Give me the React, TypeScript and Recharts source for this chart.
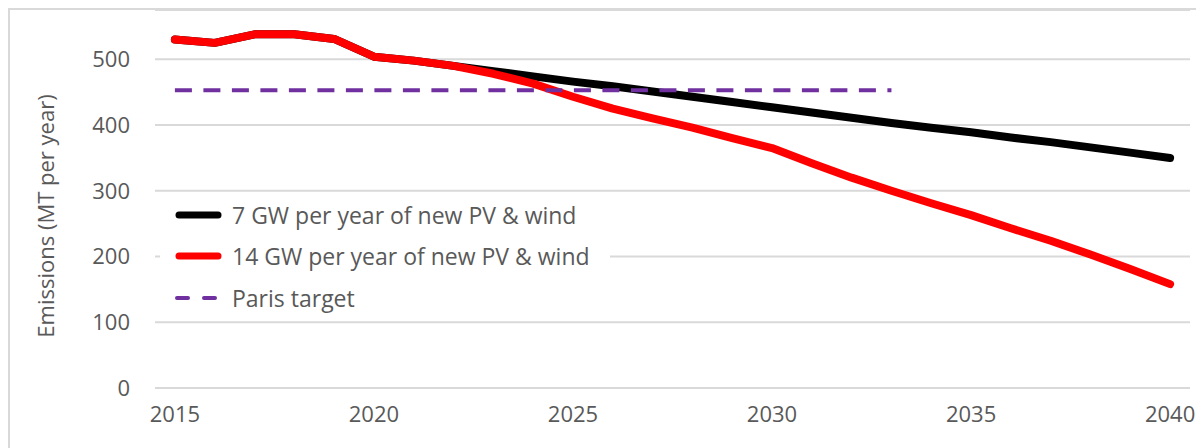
import { LineChart, Line, XAxis, YAxis, CartesianGrid, Legend } from "recharts";

// 연도 (x축)
const years = [
  2015, 2016, 2017, 2018, 2019, 2020, 2021, 2022, 2023, 2024, 2025, 2026, 2027,
  2028, 2029, 2030, 2031, 2032, 2033, 2034, 2035, 2036, 2037, 2038, 2039, 2040,
];

// 7 GW 시나리오
const sevenGW = [
  530, 525, 538, 538, 531, 504, 498, 490, 482, 474, 466, 459, 451, 443, 435,
  427, 419, 411, 403, 396, 389, 381, 374, 366, 358, 350,
];

// 14 GW 시나리오
const fourteenGW = [
  530, 525, 538, 538, 531, 504, 498, 490, 478, 463, 443, 425, 410, 396, 380,
  365, 342, 320, 300, 281, 263, 243, 224, 203, 181, 158,
];

// 파리 목표 (2033까지만)
const parisTarget = [
  453, 453, 453, 453, 453, 453, 453, 453, 453, 453, 453, 453, 453, 453, 453,
  453, 453, 453, 453, null, null, null, null, null, null, null,
];

const yTicks = [0, 100, 200, 300, 400, 500];
const xTicks = [2015, 2020, 2025, 2030, 2035, 2040];

const seriesNames = [
  "7 GW per year of new PV & wind",
  "14 GW per year of new PV & wind",
  "Paris target",
];

const FONT = "'Open Sans', 'Noto Sans', sans-serif";
const TEXT = "#595959";

const data = years.map((year, i) => ({
  year,
  seven: sevenGW[i],
  fourteen: fourteenGW[i],
  paris: parisTarget[i],
}));

// 범례: 흰 배경 박스 + 스와치
const LegendBox = () => {
  const swatches = [
    { color: "#000000", width: 7, dash: undefined as string | undefined },
    { color: "#FF0000", width: 7, dash: undefined },
    { color: "#7030A0", width: 4, dash: "11 16" },
  ];
  return (
    <div style={{ background: "#fff", paddingLeft: 15, paddingRight: 20 }}>
      {seriesNames.map((name, i) => (
        <div
          key={name}
          style={{ display: "flex", alignItems: "center", height: 41.5 }}
        >
          <svg width={47} height={12} style={{ display: "block" }}>
            <line
              x1={swatches[i].dash ? 2 : 4}
              x2={swatches[i].dash ? 44 : 43}
              y1={6}
              y2={6}
              stroke={swatches[i].color}
              strokeWidth={swatches[i].width}
              strokeLinecap="round"
              strokeDasharray={swatches[i].dash}
            />
          </svg>
          <span
            style={{
              marginLeft: 10,
              fontFamily: FONT,
              fontSize: 23,
              color: TEXT,
              whiteSpace: "nowrap",
            }}
          >
            {name}
          </span>
        </div>
      ))}
    </div>
  );
};

const YLabel = ({ viewBox }: any) => {
  const cx = viewBox.x + 35;
  const cy = viewBox.y + viewBox.height / 2 + 17;
  return (
    <text
      x={cx}
      y={cy}
      transform={`rotate(-90 ${cx} ${cy})`}
      textAnchor="middle"
      dominantBaseline="central"
      fontFamily={FONT}
      fontSize={22}
      fill={TEXT}
    >
      Emissions (MT per year)
    </text>
  );
};

export default function App() {
  return (
    <div
      style={{
        width: 1194,
        height: 438,
        borderTop: "2px solid #d9d9d9",
        borderLeft: "2px solid #d9d9d9",
        background: "#fff",
      }}
    >
      <LineChart
        width={1194}
        height={438}
        data={data}
        margin={{ top: 0, right: 14, bottom: 0, left: 0 }}
      >
        <CartesianGrid
          vertical={false}
          stroke="#d9d9d9"
          strokeWidth={2}
        />
        <XAxis
          dataKey="year"
          type="number"
          domain={[2014.5, 2040.5]}
          ticks={xTicks}
          axisLine={false}
          tickLine={false}
          tickSize={0}
          tickMargin={18}
          height={60}
          tick={{ fill: TEXT, fontSize: 22, fontFamily: FONT }}
        />
        <YAxis
          type="number"
          domain={[0, 575]}
          ticks={yTicks}
          axisLine={false}
          tickLine={false}
          tickSize={0}
          tickMargin={25}
          width={145}
          tick={{ fill: TEXT, fontSize: 22, fontFamily: FONT }}
          label={<YLabel />}
        />
        <Legend
          layout="vertical"
          align="center"
          verticalAlign="middle"
          content={<LegendBox />}
          wrapperStyle={{ left: 150, top: 184, width: "auto" }}
        />
        <Line
          dataKey="seven"
          name={seriesNames[0]}
          stroke="#000000"
          strokeWidth={8}
          strokeLinecap="round"
          strokeLinejoin="round"
          dot={false}
          activeDot={false}
          isAnimationActive={false}
        />
        <Line
          dataKey="fourteen"
          name={seriesNames[1]}
          stroke="#FF0000"
          strokeWidth={8}
          strokeLinecap="round"
          strokeLinejoin="round"
          dot={false}
          activeDot={false}
          isAnimationActive={false}
        />
        <Line
          dataKey="paris"
          name={seriesNames[2]}
          stroke="#7030A0"
          strokeWidth={4}
          strokeDasharray="17 11.5"
          dot={false}
          activeDot={false}
          isAnimationActive={false}
        />
      </LineChart>
    </div>
  );
}
